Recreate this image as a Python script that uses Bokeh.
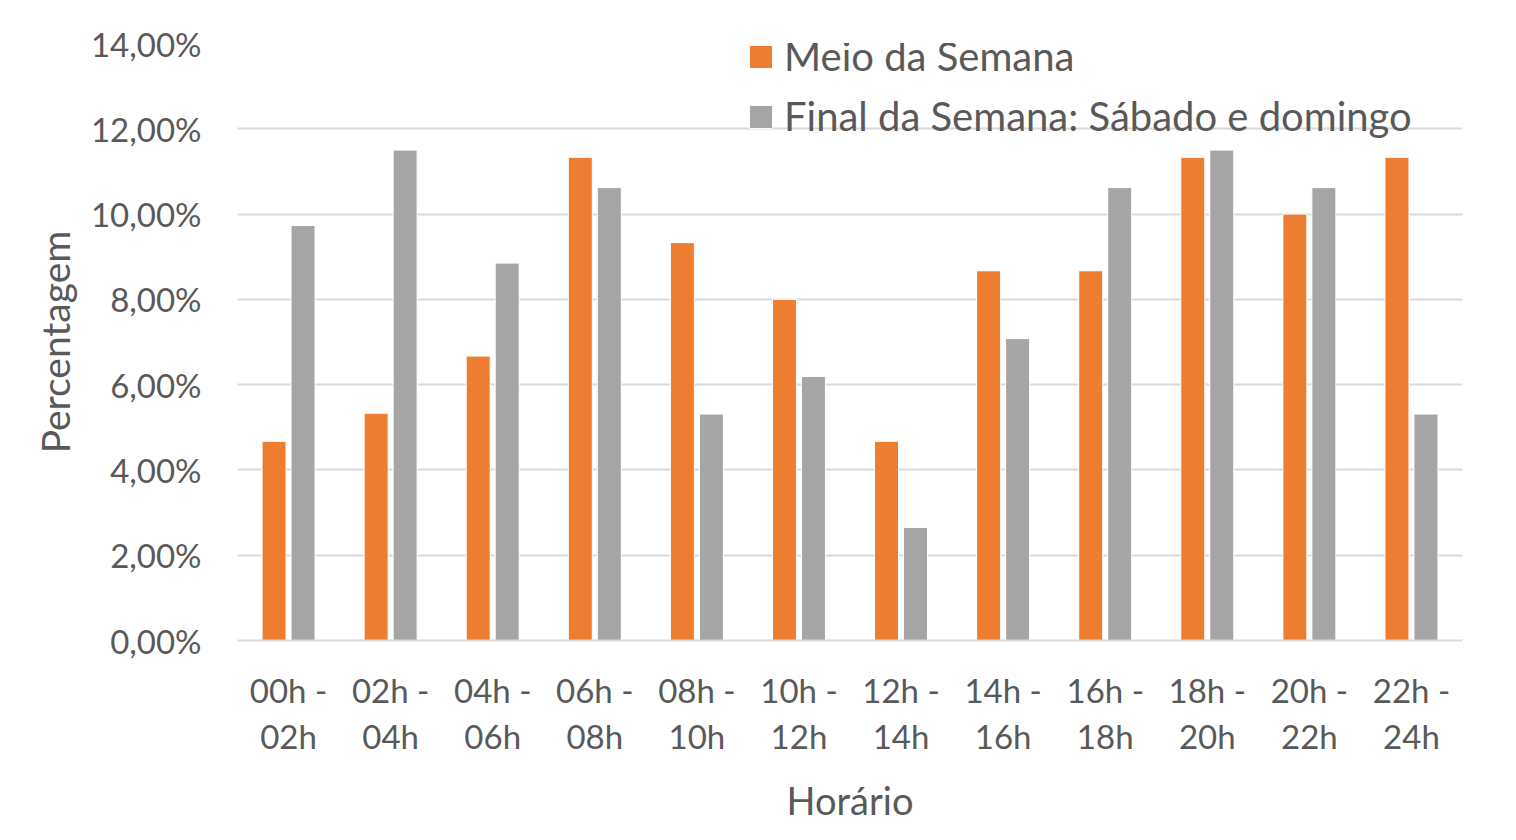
from bokeh.plotting import figure
from bokeh.models import ColumnDataSource, FactorRange, Range1d, CustomJSTickFormatter, Legend, LegendItem, FixedTicker
from bokeh.transform import dodge
from bokeh.embed import file_html
from bokeh.resources import INLINE

categories = ["00h -\n02h", "02h -\n04h", "04h -\n06h", "06h -\n08h", "08h -\n10h", "10h -\n12h",
              "12h -\n14h", "14h -\n16h", "16h -\n18h", "18h -\n20h", "20h -\n22h", "22h -\n24h"]
meio_semana = [0.0467, 0.0533, 0.0667, 0.1133, 0.0933, 0.0800, 0.0467, 0.0867, 0.0867, 0.1133, 0.1000, 0.1133]
final_semana = [0.0973, 0.1150, 0.0885, 0.1062, 0.0531, 0.0619, 0.0265, 0.0708, 0.1062, 0.1150, 0.1062, 0.0531]
series_names = ["Meio da Semana", "Final da Semana: Sábado e domingo"]
y_ticks = [0.0, 0.02, 0.04, 0.06, 0.08, 0.10, 0.12, 0.14]

FONT = "Lato"
TXT = "#595959"
ORANGE = "#ED7D31"
GRAY = "#A5A5A5"

src = ColumnDataSource(dict(cat=categories, meio=meio_semana, final=final_semana))

p = figure(x_range=FactorRange(*categories), y_range=Range1d(0, 0.14),
           width=1508, height=832, output_backend="svg", toolbar_location=None,
           min_border_left=237, min_border_right=46, min_border_top=43, min_border_bottom=192)
p.frame_width = 1225
p.frame_height = 597
p.outline_line_color = None
p.background_fill_color = "white"
p.border_fill_color = "white"

r1 = p.vbar(x=dodge("cat", -0.142, range=p.x_range), top="meio", width=0.235, source=src,
            fill_color=ORANGE, line_color="white", line_width=1)
r2 = p.vbar(x=dodge("cat", 0.142, range=p.x_range), top="final", width=0.235, source=src,
            fill_color=GRAY, line_color="white", line_width=1)

p.x_range.range_padding = 0
p.x_range.group_padding = 0

# y axis
p.yaxis.ticker = FixedTicker(ticks=y_ticks)
p.yaxis.formatter = CustomJSTickFormatter(code="return (tick*100).toFixed(2).replace('.', ',') + '%';")
p.yaxis.axis_line_color = None
p.yaxis.major_tick_line_color = None
p.yaxis.minor_tick_line_color = None
p.yaxis.major_label_text_font = FONT
p.yaxis.major_label_text_font_size = "33px"
p.yaxis.major_label_text_color = TXT
p.yaxis.major_label_standoff = 30
p.yaxis.axis_label = "Percentagem"
p.yaxis.axis_label_text_font = FONT
p.yaxis.axis_label_text_font_size = "39px"
p.yaxis.axis_label_text_font_style = "normal"
p.yaxis.axis_label_text_color = TXT
p.yaxis.axis_label_standoff = 10

# x axis
p.xaxis.axis_line_color = "#D9D9D9"
p.xaxis.axis_line_width = 2
p.xaxis.major_tick_line_color = None
p.xaxis.minor_tick_line_color = None
p.xaxis.major_label_text_font = FONT
p.xaxis.major_label_text_font_size = "33px"
p.xaxis.major_label_text_color = TXT
p.xaxis.major_label_standoff = 23
p.xaxis.major_label_text_line_height = 1.15
p.xaxis.axis_label = "Horário"
p.xaxis.axis_label_text_font = FONT
p.xaxis.axis_label_text_font_size = "38px"
p.xaxis.axis_label_text_font_style = "normal"
p.xaxis.axis_label_text_color = TXT
p.xaxis.axis_label_standoff = 18

p.xgrid.grid_line_color = None
p.ygrid.grid_line_color = "#D9D9D9"
p.ygrid.grid_line_width = 2

legend = Legend(items=[LegendItem(label=series_names[0], renderers=[r1]),
                       LegendItem(label=series_names[1], renderers=[r2])],
                location=(509, 500), orientation="vertical")
legend.background_fill_alpha = 0
legend.border_line_color = None
legend.label_text_font = FONT
legend.label_text_font_size = "40px"
legend.label_text_color = TXT
legend.glyph_width = 29
legend.glyph_height = 29
legend.label_standoff = 9
legend.spacing = 12
legend.padding = 0
legend.margin = 0
p.add_layout(legend, "center")

open("out.html", "w").write(file_html(p, INLINE))
